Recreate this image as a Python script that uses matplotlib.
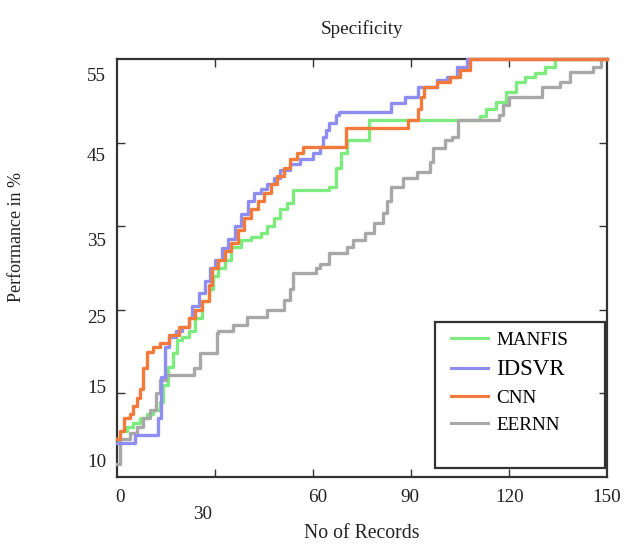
import matplotlib
matplotlib.use("Agg")
import matplotlib.pyplot as plt
from matplotlib.patches import Rectangle

# ---------------- data ----------------
manfis_x = [0, 1, 3, 5, 7, 9, 11, 13, 14, 15.5, 17, 18.3, 20, 22, 24, 26, 28, 29.5, 31, 33, 35, 38, 41, 44,
            46, 48, 50, 52, 54, 65, 67, 68.5, 70.5, 77, 111, 113, 116, 119, 122, 125, 128, 131, 134, 150]
manfis_y = [9.5, 10.5, 11, 11.5, 12, 12.5, 13, 14, 16, 18.2, 19.8, 21.4, 21.7, 22.5, 24, 26, 27.5, 29, 30, 31,
            32.5, 33.3, 33.7, 34.2, 35, 36, 37, 37.8, 39.3, 39.7, 42, 43.8, 45.3, 47.7, 48.2, 49, 49.9, 51,
            52.2, 52.8, 53.3, 54, 55, 55]

idsvr_x = [0, 5.5, 12.5, 13.5, 14.7, 16, 18, 20, 22, 23, 25, 27, 28.5, 30, 32, 34, 36, 38, 40, 42, 44, 46, 48,
           50, 53, 56, 60, 62, 63, 64, 65, 67, 68, 84, 88, 92, 98, 101, 104, 107, 150]
idsvr_y = [9.1, 10, 12, 17, 20.5, 21.7, 22.5, 23, 24, 25.5, 27, 28.5, 30, 31, 32.4, 33.5, 35, 36.5, 38, 39,
           39.5, 40, 40.8, 41.7, 42.5, 43, 43.8, 44.5, 45.7, 46.5, 47.3, 48.3, 48.7, 49.7, 50.5, 51.6, 52.5,
           52.8, 54, 55, 55]

cnn_x = [0, 1, 2, 4, 5, 6, 7, 8, 9, 11, 13, 16, 19, 22, 24, 26, 28, 29, 31, 33, 35, 37, 39, 41, 43, 45, 47,
         49, 51, 53, 55, 57, 70, 89, 92, 93, 94, 98, 102, 105, 108, 150]
cnn_y = [9.5, 10.5, 12, 12.5, 13.5, 14.5, 15.5, 18, 20, 20.5, 21, 22, 23, 24, 25, 26, 28, 30, 31, 32, 33,
         34.5, 36, 37, 38, 39, 40, 41, 42, 43, 43.8, 44.5, 46.7, 47.7, 49, 50.5, 51.6, 52.2, 52.8, 53.7, 55, 55]

eernn_x = [0, 1, 4, 6, 8, 10, 12, 13, 15, 23.5, 25.5, 30.6, 31, 35.5, 39.8, 46, 51, 53, 54, 61, 62, 65, 70.4,
           72.3, 76, 78.5, 81.5, 82.6, 84, 87.6, 91.8, 95.8, 96.7, 100.4, 102.5, 104.4, 117, 118, 120, 130,
           135.6, 138.7, 145.7, 148, 150]
eernn_y = [6.5, 9.5, 10.3, 11, 12, 13, 15, 16.6, 17.2, 18, 19.8, 22.2, 22.5, 23.2, 24.1, 25, 26.2, 27.5,
           29.4, 30, 30.5, 31.8, 32.5, 33.3, 34.2, 35.4, 36.6, 38, 39.7, 40.8, 41.5, 42.7, 44.4, 45.3, 45.7,
           47.7, 48.3, 49.5, 50.5, 51.6, 52.3, 53.5, 54, 55, 55]

series_names = ["MANFIS", "IDSVR", "CNN", "EERNN"]
xtick_labels = ["0", "30", "60", "90", "120", "150"]
ytick_labels = ["10", "15", "25", "35", "45", "55"]

# ---------------- style ----------------
plt.rcParams['font.family'] = ['Liberation Serif', 'DejaVu Serif']
colors = {"MANFIS": "#7DEB7D", "IDSVR": "#8E8EF2", "CNN": "#F47A3C", "EERNN": "#A8A8A8"}

fig = plt.figure(figsize=(6.33, 5.45), dpi=100)
ax = fig.add_axes([0.185, 0.1248, 0.774, 0.7669])

lw = 2.4
h_m, = ax.plot(manfis_x, manfis_y, drawstyle='steps-post', color=colors["MANFIS"], lw=lw, clip_on=False, zorder=3)
h_e, = ax.plot(eernn_x, eernn_y, drawstyle='steps-post', color=colors["EERNN"], lw=lw, clip_on=False, zorder=3)
h_i, = ax.plot(idsvr_x, idsvr_y, drawstyle='steps-post', color=colors["IDSVR"], lw=lw, clip_on=False, zorder=3)
h_c, = ax.plot(cnn_x, cnn_y, drawstyle='steps-post', color=colors["CNN"], lw=lw, clip_on=False, zorder=3)

ax.set_xlim(0, 150)
ax.set_ylim(5, 55)

for s in ax.spines.values():
    s.set_color("#333333")
    s.set_linewidth(1.6)

# true tick marks (no labels)
ax.set_xticks([30, 60, 90, 120])
ax.set_yticks([15, 25, 35, 45])
ax.tick_params(which='major', direction='in', length=6, width=1.0, color="#333333",
               top=True, right=True, labelbottom=False, labelleft=False)

# labels (positioned as in the reference image)
ax.set_xticks([0.9, 26.3, 61.5, 89.7, 120.3, 149.9], minor=True)
ax.set_xticklabels(xtick_labels, minor=True)
ax.set_yticks([7.0, 15.8, 24.2, 33.4, 43.6, 53.1], minor=True)
ax.set_yticklabels(ytick_labels, minor=True)
ax.tick_params(which='minor', length=0, labelsize=13.8, colors="#222222")
ax.tick_params(axis='x', which='minor', pad=9)
ax.tick_params(axis='y', which='minor', pad=8)
ax.xaxis.get_minor_ticks()[1].set_pad(21)

ax.set_title("Specificity", fontsize=13.8, pad=18, color="#222222")
ax.set_xlabel("No of Records", fontsize=14.2, color="#222222")
ax.xaxis.set_label_coords(0.5, -0.113)
ax.set_ylabel("Performance in %", fontsize=13, color="#222222")
ax.yaxis.set_label_coords(-0.188, 0.574)

# legend with its own frame
ax.add_patch(Rectangle((0.649, 0.0215), 0.347, 0.3495, transform=ax.transAxes, fill=False,
                       edgecolor="#333333", lw=1.6, zorder=4))
leg = ax.legend([h_m, h_i, h_c, h_e], series_names, loc='upper left', bbox_to_anchor=(0.666, 0.366),
                frameon=False, fontsize=13.8, handlelength=1.95, handletextpad=0.4, labelspacing=0.5,
                borderaxespad=0)
for h in leg.get_lines():
    h.set_linewidth(2.2)
leg.get_texts()[1].set_fontsize(16.5)

fig.savefig("out.png", dpi=100)
